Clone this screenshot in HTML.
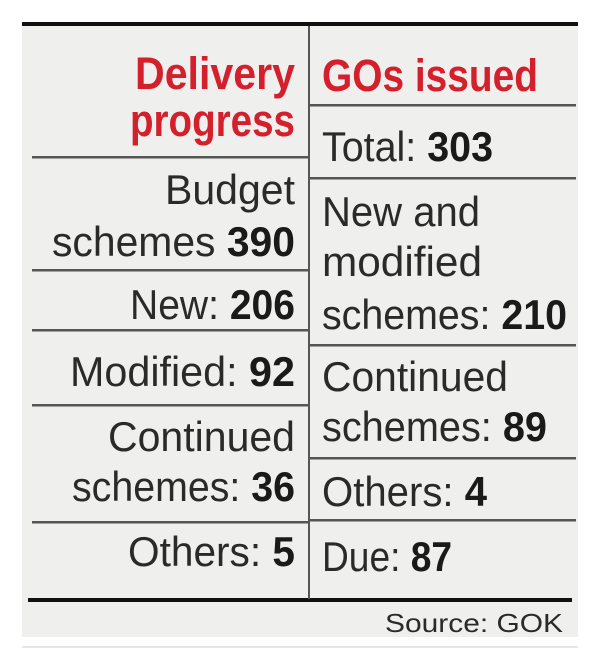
<!DOCTYPE html>
<html><head><meta charset="utf-8"><style>
html,body{margin:0;padding:0;background:#fff}
svg{display:block}
text{font-family:"Liberation Sans Narrow","Liberation Sans",sans-serif;fill:#2a2a2a}
.h{fill:#d4202c;font-weight:bold;font-size:45px}
.t{font-size:42px}
b,.b{font-weight:bold;fill:#1a1a1a}
</style></head><body>
<svg width="600" height="667" viewBox="0 0 600 667">
<rect x="22" y="26" width="556" height="611" fill="#eff0ee"/>
<rect x="22" y="22" width="556" height="4" fill="#111"/>
<rect x="28" y="598" width="544" height="4" fill="#111"/>
<rect x="22" y="646" width="556" height="2" fill="#e6e6e6"/>
<rect x="308" y="26" width="2" height="573" fill="#555"/>
<g fill="#555">
<rect x="32" y="156" width="276" height="2.5"/>
<rect x="32" y="269" width="276" height="2.5"/>
<rect x="32" y="329" width="276" height="2.5"/>
<rect x="32" y="404" width="276" height="2.5"/>
<rect x="32" y="521" width="276" height="2.5"/>
<rect x="310" y="104" width="266" height="2.5"/>
<rect x="310" y="177" width="266" height="2.5"/>
<rect x="310" y="344" width="266" height="2.5"/>
<rect x="310" y="457" width="266" height="2.5"/>
<rect x="310" y="519" width="266" height="2.5"/>
</g>
<g text-anchor="end">
<text class="h" x="295" y="89" textLength="160" lengthAdjust="spacingAndGlyphs">Delivery</text>
<text class="h" x="295" y="136" textLength="165" lengthAdjust="spacingAndGlyphs">progress</text>
<text class="t" x="295" y="204" textLength="130" lengthAdjust="spacingAndGlyphs">Budget</text>
<text class="t" x="295" y="256" textLength="243" lengthAdjust="spacingAndGlyphs">schemes <tspan class="b">390</tspan></text>
<text class="t" x="295" y="319" textLength="165" lengthAdjust="spacingAndGlyphs">New: <tspan class="b">206</tspan></text>
<text class="t" x="295" y="386" textLength="225" lengthAdjust="spacingAndGlyphs">Modified: <tspan class="b">92</tspan></text>
<text class="t" x="295" y="451" textLength="187" lengthAdjust="spacingAndGlyphs">Continued</text>
<text class="t" x="295" y="501" textLength="223" lengthAdjust="spacingAndGlyphs">schemes: <tspan class="b">36</tspan></text>
<text class="t" x="295" y="566" textLength="167" lengthAdjust="spacingAndGlyphs">Others: <tspan class="b">5</tspan></text>
<text x="563" y="632" font-size="26" textLength="178" lengthAdjust="spacingAndGlyphs">Source: GOK</text>
</g>
<g>
<text class="h" x="322" y="91" textLength="216" lengthAdjust="spacingAndGlyphs">GOs issued</text>
<text class="t" x="322" y="161" textLength="171" lengthAdjust="spacingAndGlyphs">Total: <tspan class="b">303</tspan></text>
<text class="t" x="322" y="226" textLength="158" lengthAdjust="spacingAndGlyphs">New and</text>
<text class="t" x="322" y="276" textLength="160" lengthAdjust="spacingAndGlyphs">modified</text>
<text class="t" x="322" y="329" textLength="245" lengthAdjust="spacingAndGlyphs">schemes: <tspan class="b">210</tspan></text>
<text class="t" x="322" y="391" textLength="186" lengthAdjust="spacingAndGlyphs">Continued</text>
<text class="t" x="322" y="441" textLength="225" lengthAdjust="spacingAndGlyphs">schemes: <tspan class="b">89</tspan></text>
<text class="t" x="322" y="506" textLength="165" lengthAdjust="spacingAndGlyphs">Others: <tspan class="b">4</tspan></text>
<text class="t" x="322" y="571" textLength="130" lengthAdjust="spacingAndGlyphs">Due: <tspan class="b">87</tspan></text>
</g>
</svg>
</body></html>
